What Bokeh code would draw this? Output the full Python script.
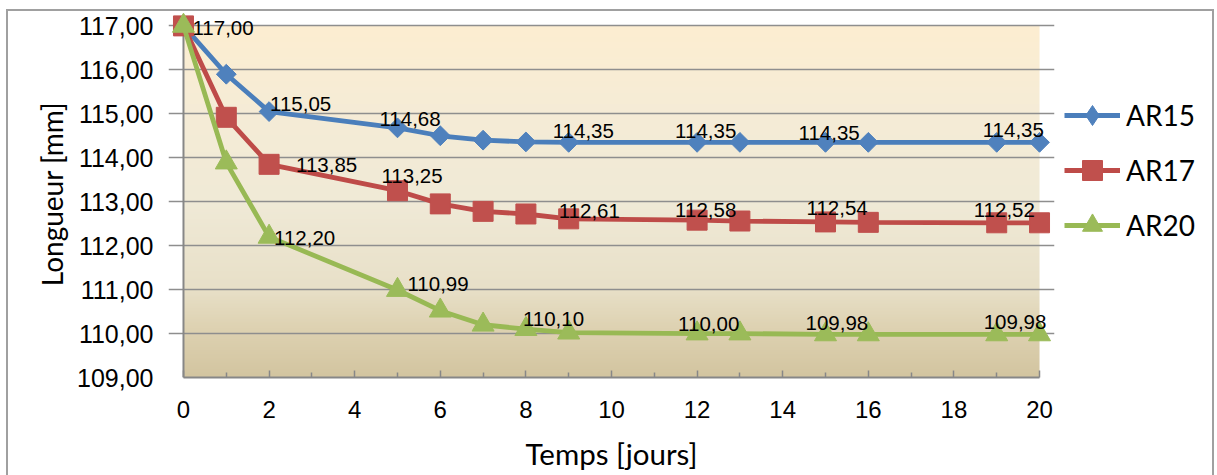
import numpy as np
from bokeh.plotting import figure
from bokeh.models import Range1d, FixedTicker, Legend, LegendItem, ColumnDataSource
from bokeh.core.properties import value
from bokeh.embed import file_html
from bokeh.resources import INLINE

# ---------------- data ----------------
DAYS = [0, 1, 2, 5, 6, 7, 8, 9, 12, 13, 15, 16, 19, 20]
AR15 = [117.00, 115.90, 115.05, 114.68, 114.50, 114.40, 114.36, 114.35, 114.35, 114.35, 114.35, 114.35, 114.35, 114.35]
AR17 = [117.00, 114.92, 113.85, 113.25, 112.95, 112.78, 112.72, 112.61, 112.58, 112.56, 112.54, 112.53, 112.52, 112.52]
AR20 = [117.00, 113.89, 112.20, 110.99, 110.52, 110.20, 110.10, 110.02, 110.00, 110.00, 109.98, 109.98, 109.98, 109.98]
SERIES_NAMES = ["AR15", "AR17", "AR20"]

# points that carry a data label (index into DAYS)
AR15_LABEL_IDX = [0, 2, 3, 7, 8, 10, 12]
AR17_LABEL_IDX = [2, 3, 7, 8, 10, 12]
AR20_LABEL_IDX = [2, 3, 6, 8, 10, 12]

X_TICKS = [0, 2, 4, 6, 8, 10, 12, 14, 16, 18, 20]
X_MINOR_TICKS = [1, 3, 5, 7, 9, 11, 13, 15, 17, 19]
Y_TICKS = [109, 110, 111, 112, 113, 114, 115, 116, 117]
Y_TICK_LABELS = ["109,00", "110,00", "111,00", "112,00", "113,00", "114,00", "115,00", "116,00", "117,00"]
X_LABEL = "Temps [jours]"
Y_LABEL = "Longueur [mm]"

# ---------------- styles ----------------
LINE_COLORS = ["#4A7EBB", "#BE4B48", "#98B954"]
FILL_COLORS = ["#4F81BD", "#C0504D", "#9BBB59"]
MARKERS = ["square", "square", "triangle"]
LEGEND_MARKERS = ["diamond", "square", "triangle"]
MARKER_SIZES = [14, 20, 22]
MARKER_ANGLES = [np.pi / 4, 0.0, 0.0]
# label offsets in pixels (dx, dy)
AR15_LABEL_OFF = [(9, 2), (1, -8), (-18, -9), (-16, -11), (-22, -11), (-27, -9), (-14, -12)]
AR17_LABEL_OFF = [(27, 1), (-16, -15), (-10, -8), (-22, -10), (-19, -14), (-23, -13)]
AR20_LABEL_OFF = [(5, 1), (10, -6), (-3, -10), (-19, -10), (-20, -11), (-13, -12)]

GRID_COLOR = "#8e8e8e"
AXIS_COLOR = "#878787"
FRAME_COLOR = "#a0a0a0"
BG_STOPS = [0.0, 0.14, 0.25, 0.5, 0.78, 1.0]
BG_COLORS = [(211, 197, 160), (222, 210, 178), (232, 224, 200), (240, 234, 215), (246, 236, 214), (253, 238, 209)]

PAD_X = 0.35
PAD_Y = 0.35

p = figure(
    frame_width=886, frame_height=367,
    min_border_left=168, min_border_right=163, min_border_top=10, min_border_bottom=98,
    x_range=Range1d(X_TICKS[0] - PAD_X, X_TICKS[-1] + PAD_X),
    y_range=Range1d(Y_TICKS[0], Y_TICKS[-1] + PAD_Y),
    output_backend="svg", toolbar_location=None,
    background_fill_color=None, border_fill_color=None,
)
p.outline_line_color = None
# outer chart border (left, top, right) drawn as the page background behind the transparent canvas
_line = f"linear-gradient({FRAME_COLOR},{FRAME_COLOR})"
p.styles = {
    "background": (f"{_line} 6px 9px / 2px 100% no-repeat, "
                   f"{_line} 6px 9px / 1208px 2px no-repeat, "
                   f"{_line} 1212px 9px / 2px 100% no-repeat, white"),
}

# background gradient of the plot area
n = 256
t = np.linspace(0, 1, n)
img = np.empty((n, 1), dtype=np.uint32)
view = img.view(dtype=np.uint8).reshape((n, 1, 4))
for ch in range(3):
    view[:, 0, ch] = np.interp(t, BG_STOPS, [c[ch] for c in BG_COLORS]).astype(np.uint8)
view[:, 0, 3] = 255
p.image_rgba(image=[img], x=X_TICKS[0], y=Y_TICKS[0],
             dw=X_TICKS[-1] - X_TICKS[0], dh=Y_TICKS[-1] - Y_TICKS[0], level="image")

# grid
p.xgrid.visible = False
p.ygrid.ticker = FixedTicker(ticks=Y_TICKS[1:])
p.ygrid.bounds = (X_TICKS[0], X_TICKS[-1])
p.ygrid.grid_line_color = GRID_COLOR
p.ygrid.grid_line_width = 1.5

# y axis line at x = 0
p.segment(x0=[X_TICKS[0]], y0=[Y_TICKS[0]], x1=[X_TICKS[0]], y1=[Y_TICKS[-1]],
          line_color=AXIS_COLOR, line_width=2)

# x axis
xa = p.xaxis[0]
xa.ticker = FixedTicker(ticks=X_TICKS, minor_ticks=X_MINOR_TICKS)
xa.bounds = (X_TICKS[0], X_TICKS[-1])
xa.axis_line_color = AXIS_COLOR
xa.axis_line_width = 2
xa.major_tick_line_color = AXIS_COLOR
xa.minor_tick_line_color = AXIS_COLOR
xa.major_tick_line_width = 1.5
xa.minor_tick_line_width = 1.5
xa.major_tick_in = 7
xa.major_tick_out = 0
xa.minor_tick_in = 5
xa.minor_tick_out = 0
xa.major_label_text_font = "Liberation Sans"
xa.major_label_text_font_size = "24px"
xa.major_label_text_color = "black"
xa.major_label_standoff = 23
xa.axis_label = X_LABEL
xa.axis_label_text_font = "Lato"
xa.axis_label_text_font_size = "29.5px"
xa.axis_label_text_font_style = "normal"
xa.axis_label_text_color = "black"
xa.axis_label_standoff = 15

# y axis
ya = p.yaxis[0]
ya.ticker = FixedTicker(ticks=Y_TICKS)
ya.major_label_overrides = {float(v): s for v, s in zip(Y_TICKS, Y_TICK_LABELS)}
ya.bounds = (Y_TICKS[0], Y_TICKS[-1])
ya.axis_line_color = None
ya.major_tick_line_color = None
ya.minor_tick_line_color = None
ya.major_label_text_font = "Liberation Sans"
ya.major_label_text_font_size = "25px"
ya.major_label_text_color = "black"
ya.major_label_standoff = 9
ya.axis_label = Y_LABEL
ya.axis_label_text_font = "Lato"
ya.axis_label_text_font_size = "28px"
ya.axis_label_text_font_style = "normal"
ya.axis_label_text_color = "black"
ya.axis_label_standoff = 5

series = [AR15, AR17, AR20]
label_idx = [AR15_LABEL_IDX, AR17_LABEL_IDX, AR20_LABEL_IDX]
label_off = [AR15_LABEL_OFF, AR17_LABEL_OFF, AR20_LABEL_OFF]

items = []
for k, ys in enumerate(series):
    src = ColumnDataSource(dict(x=DAYS, y=ys))
    lr = p.line("x", "y", source=src, line_color=LINE_COLORS[k], line_width=4.8)
    p.scatter("x", "y", source=src, marker=MARKERS[k], size=MARKER_SIZES[k],
              angle=MARKER_ANGLES[k], fill_color=FILL_COLORS[k],
              line_color=FILL_COLORS[k], line_width=1)
    # legend-only marker: one point without a y value, so nothing is drawn in the plot
    leg_src = ColumnDataSource(dict(x=[DAYS[0]], y=[float("nan")]))
    leg_r = p.scatter("x", "y", source=leg_src, marker=LEGEND_MARKERS[k], fill_color=FILL_COLORS[k],
                      line_color=FILL_COLORS[k], line_width=1)
    items.append(LegendItem(label=SERIES_NAMES[k], renderers=[lr, leg_r]))

for k, ys in enumerate(series):
    idx = label_idx[k]
    lsrc = ColumnDataSource(dict(
        x=[DAYS[i] for i in idx],
        y=[ys[i] for i in idx],
        txt=[f"{ys[i]:.2f}".replace(".", ",") for i in idx],
        dx=[o[0] for o in label_off[k]],
        dy=[o[1] for o in label_off[k]],
    ))
    p.text("x", "y", text="txt", source=lsrc, x_offset="dx", y_offset="dy",
           text_font=value("Liberation Sans"), text_font_size="20.5px",
           text_color="black", text_align="left", text_baseline="middle")

legend = Legend(items=items, location=(10, 127), margin=0, padding=5,
                glyph_width=56, glyph_height=50, label_height=50, spacing=5,
                label_standoff=6, label_text_font="Lato", label_text_font_size="28px",
                label_text_color="black", background_fill_alpha=0, border_line_color=None)
p.add_layout(legend, "right")

open("out.html", "w").write(file_html(p, INLINE))
